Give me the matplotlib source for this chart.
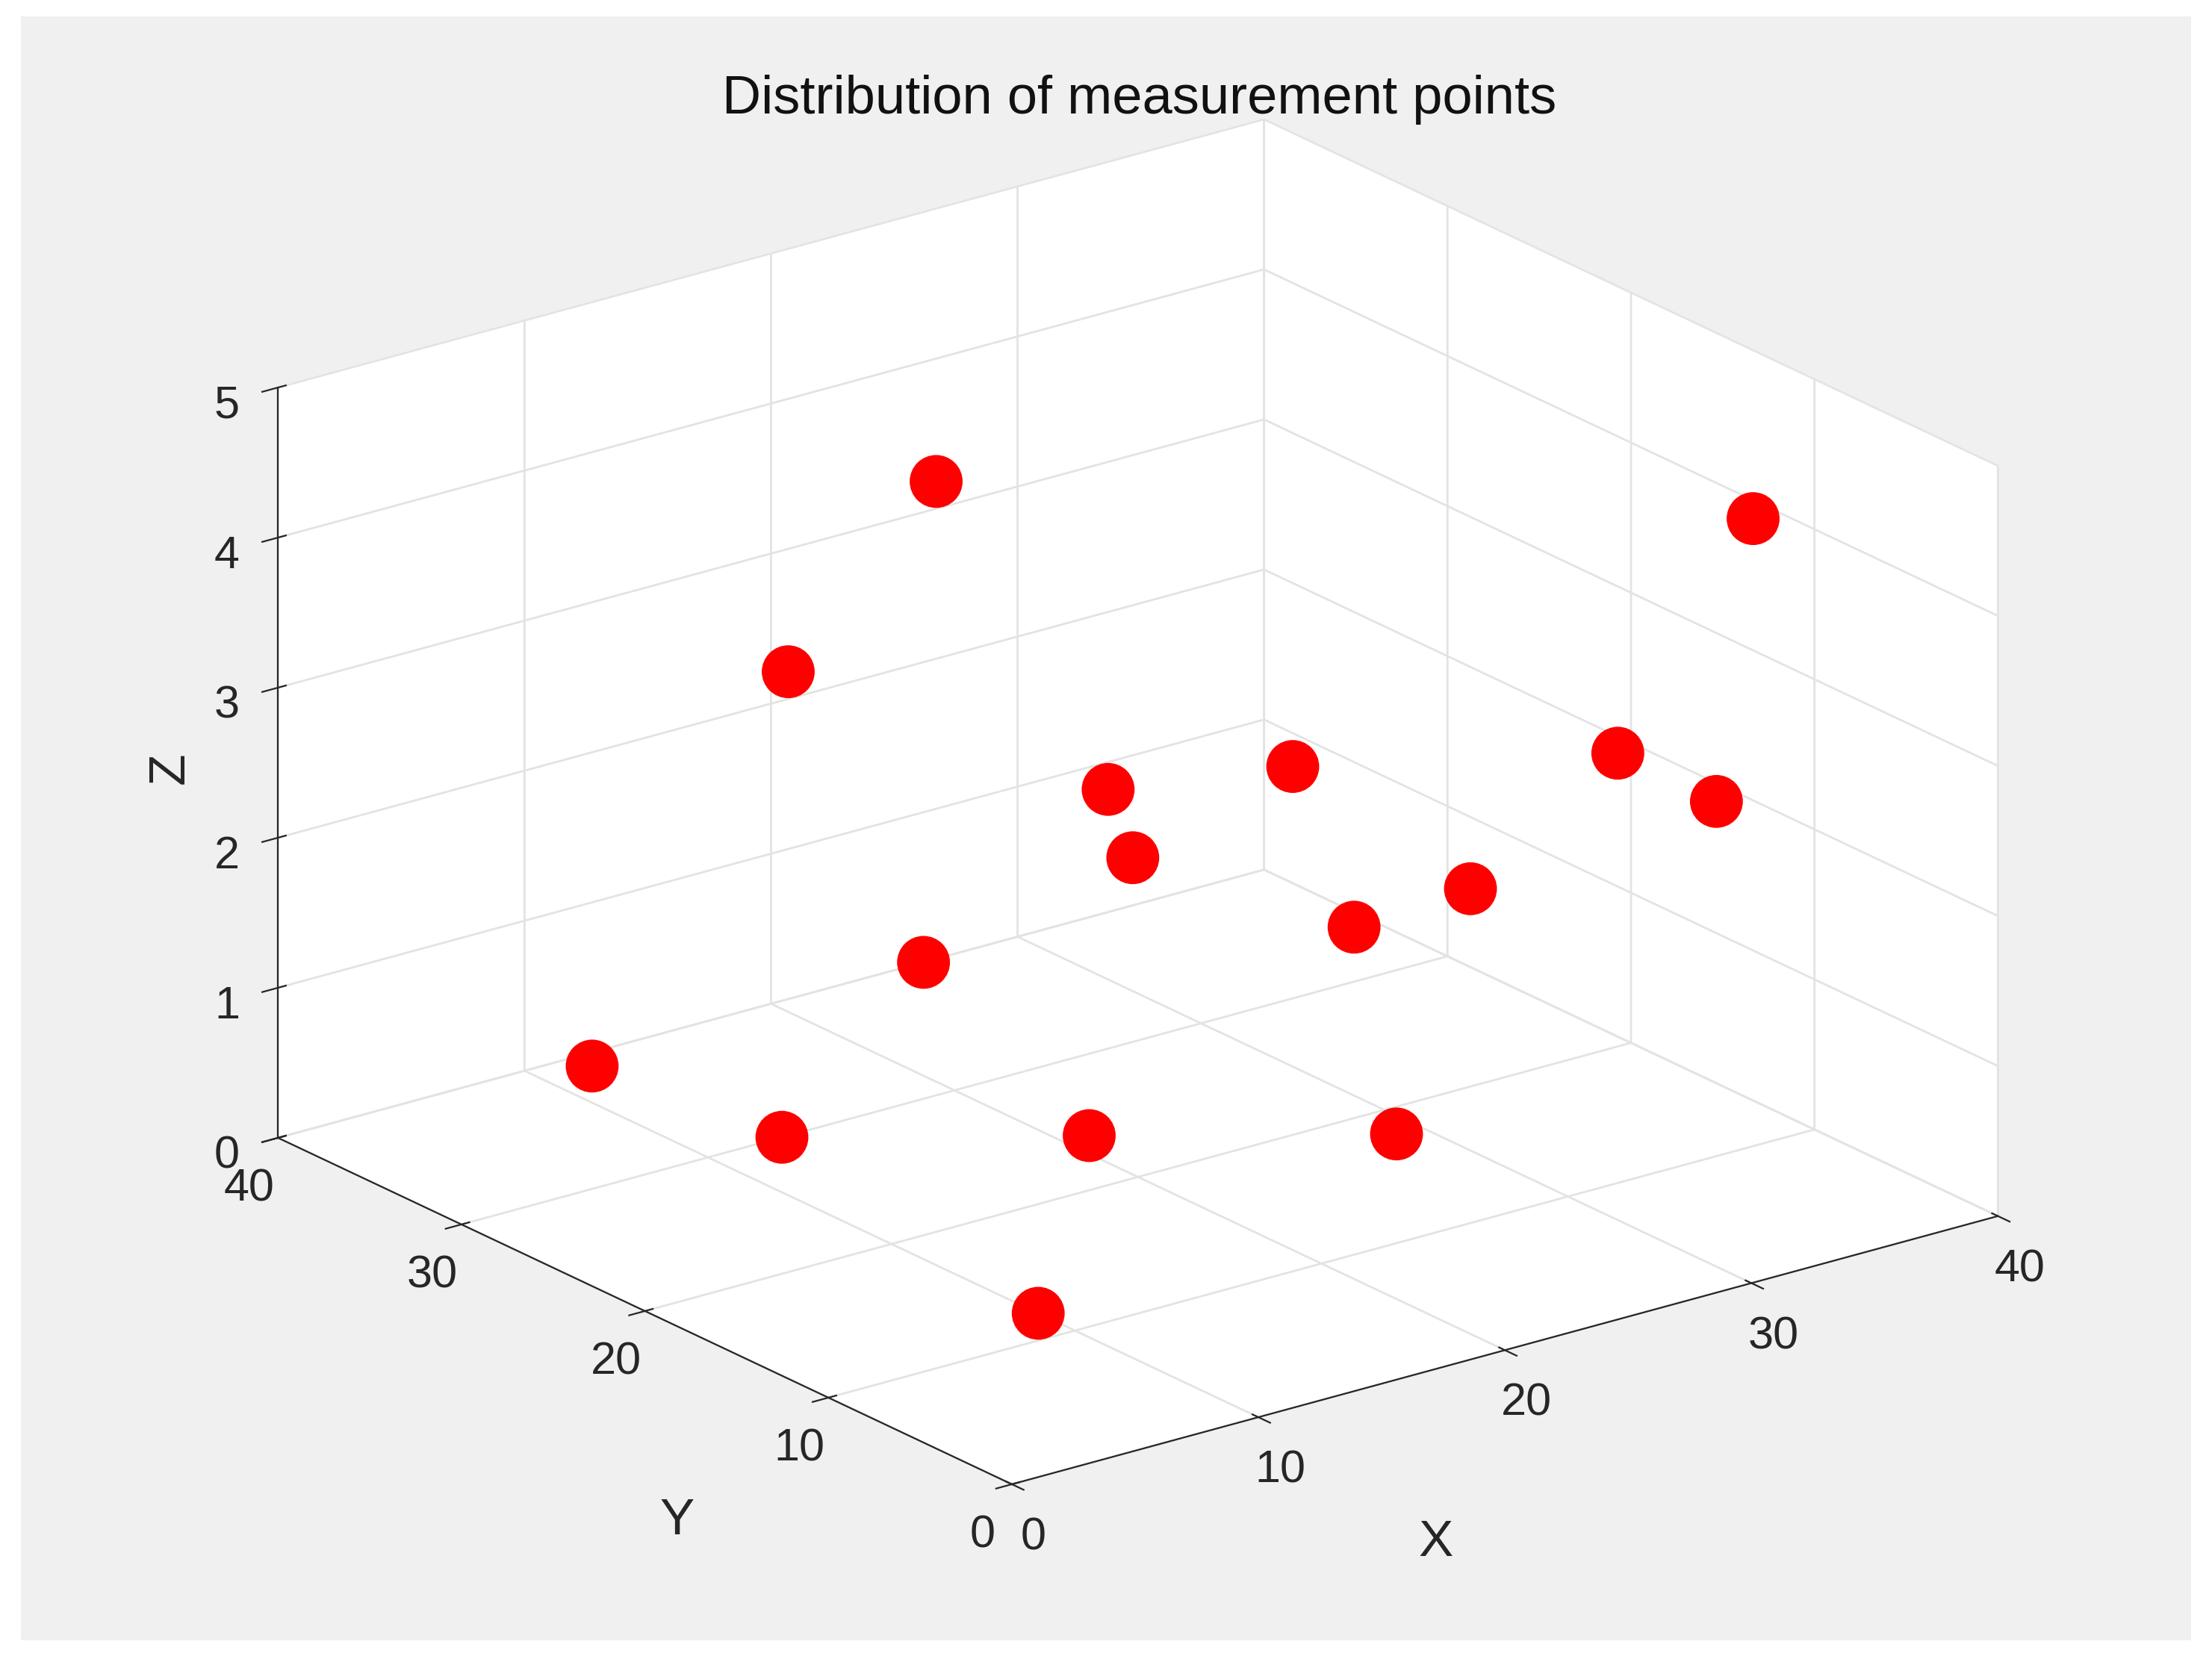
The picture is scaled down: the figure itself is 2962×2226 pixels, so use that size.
import matplotlib
matplotlib.use("Agg")
import matplotlib.pyplot as plt
from matplotlib.patches import Rectangle

x = [10, 13, 21, 29, 12, 18, 31, 32, 25, 24, 30, 35, 39, 39, 14, 20]
y = [12, 30, 24, 18, 39, 29, 23, 18, 27, 27, 25, 14, 14, 12, 31, 31]
z = [0, 0, 0, 0, 0, 1, 1, 1.5, 1.5, 2, 2, 2.5, 2, 4, 3, 4]
ticks_xy = [0, 10, 20, 30, 40]
ticks_z = [0, 1, 2, 3, 4, 5]

plt.rcParams['font.family'] = ['Liberation Sans', 'DejaVu Sans']
fig = plt.figure(figsize=(14.81, 11.13), dpi=200, facecolor='white')
fig.patches.append(Rectangle((0.0096, 0.013), 0.981, 0.977, transform=fig.transFigure,
                             facecolor='#f0f0f0', edgecolor='none', zorder=-10))
ax = fig.add_axes([0.025, 0.04, 0.96, 0.93], projection='3d', proj_type='ortho')
ax.set_facecolor('none')
ax.view_init(elev=21, azim=-127.2)
ax.set_box_aspect((1.54, 1.51, 1.0), zoom=1.2)
ax.scatter(x, y, z, s=650, c='red', depthshade=False, edgecolors='none')
ax.set_xlim(0, 40); ax.set_ylim(0, 40); ax.set_zlim(0, 5)
ax.set_xticks(ticks_xy); ax.set_yticks(ticks_xy); ax.set_zticks(ticks_z)
for a in (ax.xaxis, ax.yaxis, ax.zaxis):
    a.set_pane_color((1, 1, 1, 1))
    a._axinfo['grid'].update(color='#e3e3e3', linewidth=1.0)
    a.line.set_color('#262626')
ax.tick_params(labelsize=22, colors='#262626')
fig.text(0.649, 0.072, 'X', ha='center', va='center', fontsize=25, color='#262626')
fig.text(0.306, 0.085, 'Y', ha='center', va='center', fontsize=25, color='#262626')
fig.text(0.077, 0.538, 'Z', ha='center', va='center', fontsize=25, color='#262626', rotation=90)
fig.text(0.515, 0.94, 'Distribution of measurement points', ha='center', va='center',
         fontsize=26, color='#111111')
fig.savefig('out.png', dpi=200, facecolor='white')
